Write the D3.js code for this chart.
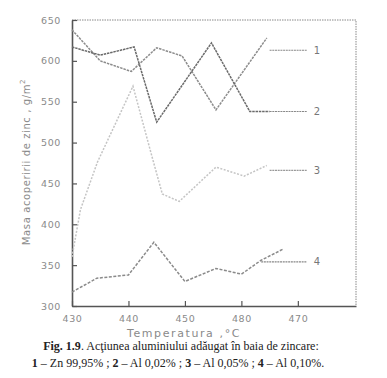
<!DOCTYPE html>
<html>
<head>
<meta charset="utf-8">
<script src="https://cdn.jsdelivr.net/npm/d3@7"></script>
<style>
  body { margin: 0; background: #fff; }
  svg { display: block; }
</style>
</head>
<body>
<div id="chart"></div>
<script>
// series: [temperature, mass]
const seria1 = [[430, 638], [435, 600], [440.5, 587], [445, 616], [449.5, 606], [455.5, 540], [464.5, 628]];
const seria2 = [[430, 617], [435, 607], [441, 617], [445, 525], [454.7, 622], [461.5, 538], [465, 538]];
const seria3 = [[430, 360], [431.5, 418], [434.5, 476], [440.8, 569], [444.2, 482], [446, 437], [449, 428], [455.5, 470], [460.5, 459], [464.5, 472]];
const seria4 = [[430, 317], [434.4, 334], [440, 338], [444.5, 378], [450, 330], [455.5, 346], [460, 339], [463.5, 356], [467.5, 370]];

const curveLabels = ["1", "2", "3", "4"];
const labelValues = [613, 538, 466, 354];
const leaderStart = [465, 465, 465, 463.5];

const xTicks = [430, 440, 450, 460, 470];
const xTickLabels = ["430", "440", "450", "480", "470"];
const yTicks = [300, 350, 400, 450, 500, 550, 600, 650];

const w = 387, h = 378;

const x = d3.scaleLinear().domain([430, 480.3]).range([72, 356]);
const y = d3.scaleLinear().domain([300, 650]).range([306, 20]);

const svg = d3.select("#chart").append("svg")
  .attr("width", w)
  .attr("height", h);

// frame: top and right dotted
svg.append("path")
  .attr("d", `M${x(430)},${y(650)}H${x(480.3)}V${y(300)}`)
  .attr("fill", "none")
  .attr("stroke", "#888")
  .attr("stroke-width", 1)
  .attr("stroke-dasharray", "1.5,1");

// axes
const yAxis = d3.axisLeft(y).tickValues(yTicks).tickSizeInner(-5).tickSizeOuter(0).tickPadding(11);
const xAxis = d3.axisBottom(x).tickValues(xTicks).tickSizeInner(-5).tickSizeOuter(0).tickPadding(9)
  .tickFormat((d, i) => xTickLabels[i]);

const gy = svg.append("g").attr("transform", `translate(${x(430)},0)`).call(yAxis);
const gx = svg.append("g").attr("transform", `translate(0,${y(300)})`).call(xAxis);

[gx, gy].forEach(g => {
  g.select(".domain").attr("stroke", "#555").attr("stroke-width", 1.6);
  g.selectAll(".tick line").attr("stroke", "#555").attr("stroke-width", 1.2);
  g.selectAll(".tick text")
    .attr("fill", "#8a8a8a")
    .style("font-family", "DejaVu Sans")
    .style("font-size", "9.5px")
    .style("letter-spacing", "0.6px");
});

// curves
const line = d3.line().x(d => x(d[0])).y(d => y(d[1]));
const series = [seria1, seria2, seria3, seria4];
const colors = ["#8c8c8c", "#6a6a6a", "#c4c4c4", "#8a8a8a"];
const dashes = ["2.5,1", "2.5,0.8", "2,1.5", "3,1.5"];

series.forEach((s, i) => {
  svg.append("path")
    .datum(s)
    .attr("d", line)
    .attr("fill", "none")
    .attr("stroke", colors[i])
    .attr("stroke-width", 1.5)
    .attr("stroke-dasharray", dashes[i]);
});

// leader lines and numbers
curveLabels.forEach((lab, i) => {
  svg.append("line")
    .attr("x1", x(leaderStart[i]))
    .attr("x2", x(471.6))
    .attr("y1", y(labelValues[i]))
    .attr("y2", y(labelValues[i]))
    .attr("stroke", i == 2 ? "#999" : "#888")
    .attr("stroke-width", 1.2)
    .attr("stroke-dasharray", "2,0.7");
  svg.append("text")
    .attr("x", x(472.8))
    .attr("y", y(labelValues[i]) + 3.5)
    .attr("fill", "#777")
    .style("font-family", "DejaVu Sans")
    .style("font-size", "10px")
    .text(lab);
});

// axis titles
svg.append("text")
  .attr("x", 184)
  .attr("y", 337)
  .attr("text-anchor", "middle")
  .attr("fill", "#8a8a8a")
  .style("font-family", "DejaVu Sans")
  .style("font-size", "11px")
  .style("letter-spacing", "1.6px")
  .text("Temperatura  ,°C");

svg.append("text")
  .attr("transform", "translate(30,162) rotate(-90)")
  .attr("text-anchor", "middle")
  .attr("fill", "#8a8a8a")
  .style("font-family", "DejaVu Sans")
  .style("font-size", "10px")
  .style("letter-spacing", "0.6px")
  .html("Masa  acoperirii  de  zinc  ,  g/m<tspan dy='-5' font-size='7'>2</tspan>");

// caption
const cap1 = svg.append("text")
  .attr("x", 181).attr("y", 350)
  .attr("text-anchor", "middle")
  .attr("fill", "#222")
  .style("font-family", "Liberation Serif")
  .style("font-size", "12px");
cap1.append("tspan").attr("font-weight", "bold").text("Fig. 1.9");
cap1.append("tspan").text(". Acţiunea aluminiului adăugat în baia de zincare:");

const cap2 = svg.append("text")
  .attr("x", 178).attr("y", 367)
  .attr("text-anchor", "middle")
  .attr("fill", "#222")
  .style("font-family", "Liberation Serif")
  .style("font-size", "12px");
const parts = [["1", true], [" – Zn 99,95% ; ", false], ["2", true], [" – Al 0,02% ; ", false],
  ["3", true], [" – Al 0,05% ; ", false], ["4", true], [" – Al 0,10%.", false]];
parts.forEach(p => {
  cap2.append("tspan").attr("font-weight", p[1] ? "bold" : null).text(p[0]);
});
</script>
</body>
</html>
